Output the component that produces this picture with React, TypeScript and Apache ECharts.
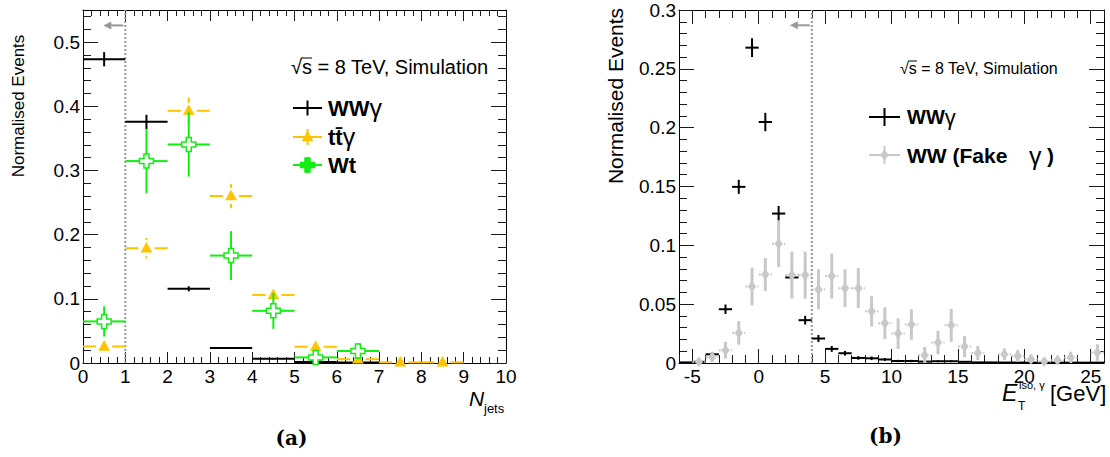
import React, { useEffect, useRef } from "react";
import * as echarts from "echarts";

// ---------- data ----------
const jetBins = [0.5, 1.5, 2.5, 3.5, 4.5, 5.5, 6.5, 7.5, 8.5];
const wwgJets = [0.4733, 0.3757, 0.1156, 0.0233, 0.0067, 0.0016, 0.0008, null, null];
const wwgJetsErr = [0.011, 0.011, 0.004, 0.0015, 0.001, 0.0005, 0.0003, null, null];
const ttgJets = [0.0258, 0.1788, 0.3929, 0.2602, 0.106, 0.0253, 0.006, 0.001, 0.001];
const ttgJetsErr = [0.004, 0.016, 0.021, 0.019, 0.011, 0.005, 0.002, 0.001, 0.001];
const wtJets = [0.0648, 0.3146, 0.3405, 0.1674, 0.0813, 0.0087, 0.0187, null, null];
const wtJetsErr = [0.0235, 0.05, 0.05, 0.038, 0.028, 0.006, 0.012, null, null];

const isoBins = [
  -5.5, -4.5, -3.5, -2.5, -1.5, -0.5, 0.5, 1.5, 2.5, 3.5, 4.5, 5.5, 6.5, 7.5, 8.5, 9.5,
  10.5, 11.5, 12.5, 13.5, 14.5, 15.5, 16.5, 17.5, 18.5, 19.5, 20.5, 21.5, 22.5, 23.5, 24.5, 25.5,
];
const wwgIso = [
  0.0005, 0.001, 0.0074, 0.0457, 0.1497, 0.268, 0.2048, 0.127, 0.0727, 0.0364, 0.0208, 0.012, 0.0083, 0.0043, 0.004, 0.003,
  0.0017, 0.0017, 0.0012, 0.0015, 0.0015, 0.001, 0.0005, 0.0005, 0.0004, 0.0004, 0.0003, 0.0003, 0.0003, 0.0003, 0.0003, 0.0003,
];
const wwgIsoErr = [
  0.0003, 0.0005, 0.002, 0.004, 0.006, 0.008, 0.0078, 0.0064, 0.0035, 0.0037, 0.003, 0.0025, 0.002, 0.0015, 0.0015, 0.0012,
  0.001, 0.001, 0.0008, 0.0008, 0.0008, 0.0006, 0.0004, 0.0004, 0.0003, 0.0003, 0.0002, 0.0002, 0.0002, 0.0002, 0.0002, 0.0002,
];
const fakeIso = [
  null, 0.001, 0.005, 0.0108, 0.0256, 0.065, 0.0753, 0.1014, 0.0747, 0.0747, 0.0625, 0.0739, 0.0636, 0.0636, 0.044, 0.0338,
  0.025, 0.0327, 0.0066, 0.0174, 0.032, 0.014, 0.0085, null, 0.0074, 0.006, 0.0032, 0.0012, 0.0023, 0.0046, null, 0.0089,
];
const fakeIsoErr = [
  null, 0.002, 0.004, 0.007, 0.01, 0.016, 0.014, 0.02, 0.02, 0.02, 0.017, 0.019, 0.016, 0.017, 0.013, 0.0135,
  0.013, 0.013, 0.007, 0.01, 0.014, 0.009, 0.006, null, 0.005, 0.005, 0.004, 0.003, 0.004, 0.005, null, 0.007,
];

// tick values
const jetMajorX = [0, 1, 2, 3, 4, 5, 6, 7, 8, 9, 10];
const jetMajorY = [0, 0.1, 0.2, 0.3, 0.4, 0.5];
const isoMajorX = [-5, 0, 5, 10, 15, 20, 25];
const isoMajorY = [0, 0.05, 0.1, 0.15, 0.2, 0.25, 0.3];

const minorsBetween = (min: number, max: number, step: number, majors: number[]) => {
  const out: number[] = [];
  const n = Math.round((max - min) / step);
  for (let i = 0; i <= n; i++) {
    const v = +(min + i * step).toFixed(6);
    if (!majors.some((m) => Math.abs(m - v) < 1e-9)) out.push(v);
  }
  return out;
};
const jetMinorX = minorsBetween(0, 10, 0.2, jetMajorX);
const jetMinorY = minorsBetween(0, 0.54, 0.02, jetMajorY);
const isoMinorX = minorsBetween(-6, 26, 1, isoMajorX);
const isoMinorY = minorsBetween(0, 0.3, 0.01, isoMajorY);

// ---------- styles ----------
const FONT = "Liberation Sans";
const BLACK = "#000000";
const YELLOW = "#ffc400";
const GREEN = "#11ee11";
const GREY = "#c8c8c8";
const CUTGREY = "#999999";

const rows = (xs: number[], ys: (number | null)[], es: (number | null)[], xe: number) =>
  xs
    .map((x, i) => (ys[i] == null ? null : [x, ys[i] as number, xe, (es[i] as number) || 0]))
    .filter((r) => r !== null) as number[][];

type MStyle = {
  color: string;
  width: number;
  vWidth?: number;
  hDash?: number[];
  marker: "none" | "triangle" | "opencross" | "diamond";
  gap: number;
};

const markerShape = (kind: string, cx: number, cy: number, color: string, fillOpen = "#ffffff") => {
  if (kind === "triangle") {
    return {
      type: "polygon",
      shape: { points: [[cx, cy - 6], [cx - 5.5, cy + 4], [cx + 5.5, cy + 4]] },
      style: { fill: color, stroke: color, lineWidth: 0.5 },
    };
  }
  if (kind === "diamond") {
    return {
      type: "polygon",
      shape: { points: [[cx, cy - 5], [cx + 4, cy], [cx, cy + 5], [cx - 4, cy]] },
      style: { fill: color, stroke: color, lineWidth: 0.5 },
    };
  }
  if (kind === "opencross") {
    const a = 2.5, L = 7;
    const pts = [
      [-a, -L], [a, -L], [a, -a], [L, -a], [L, a], [a, a], [a, L], [-a, L], [-a, a], [-L, a], [-L, -a], [-a, -a],
    ].map(([dx, dy]) => [cx + dx, cy + dy]);
    return {
      type: "polygon",
      shape: { points: pts },
      style: { fill: fillOpen, stroke: color, lineWidth: 1.5 },
    };
  }
  return null;
};

const makeRender = (st: MStyle) => (params: any, api: any) => {
  const x = api.value(0), y = api.value(1), xe = api.value(2), ye = api.value(3);
  const c = api.coord([x, y]);
  const l = api.coord([x - xe, y]);
  const r = api.coord([x + xe, y]);
  const t = api.coord([x, y + ye]);
  const b = api.coord([x, Math.max(0, y - ye)]);
  const g = st.gap;
  const children: any[] = [];
  const seg = (x1: number, y1: number, x2: number, y2: number, w: number, dash?: number[]) => {
    if (Math.abs(x2 - x1) < 0.5 && Math.abs(y2 - y1) < 0.5) return;
    children.push({
      type: "line",
      shape: { x1, y1, x2, y2 },
      style: { stroke: st.color, lineWidth: w, lineDash: dash || null },
    });
  };
  if (g > 0) {
    if (c[0] - g > l[0]) seg(l[0], c[1], c[0] - g, c[1], st.width, st.hDash);
    if (r[0] > c[0] + g) seg(c[0] + g, c[1], r[0], c[1], st.width, st.hDash);
    if (c[1] - g > t[1]) seg(c[0], t[1], c[0], c[1] - g, st.vWidth || st.width);
    if (b[1] > c[1] + g) seg(c[0], c[1] + g, c[0], b[1], st.vWidth || st.width);
  } else {
    seg(l[0], c[1], r[0], c[1], st.width, st.hDash);
    seg(c[0], t[1], c[0], b[1], st.vWidth || st.width);
  }
  const m = markerShape(st.marker, c[0], c[1], st.color);
  if (m) children.push(m);
  return { type: "group", children };
};

const cutRender = (params: any, api: any) => {
  const xc = api.value(0), ytop = api.value(1), ya = api.value(2);
  const p0 = api.coord([xc, 0]);
  const p1 = api.coord([xc, ytop]);
  const pa = api.coord([xc, ya]);
  return {
    type: "group",
    children: [
      {
        type: "line",
        shape: { x1: p0[0], y1: p0[1], x2: p1[0], y2: p1[1] },
        style: { stroke: CUTGREY, lineWidth: 2, lineDash: [2, 2] },
      },
      {
        type: "line",
        shape: { x1: pa[0] - 2, y1: pa[1], x2: pa[0] - 16, y2: pa[1] },
        style: { stroke: CUTGREY, lineWidth: 2 },
      },
      {
        type: "polygon",
        shape: { points: [[pa[0] - 22, pa[1]], [pa[0] - 14, pa[1] - 4], [pa[0] - 14, pa[1] + 4]] },
        style: { fill: CUTGREY },
      },
    ],
  };
};

const fmt = (v: number) => String(+(+v).toFixed(3));

const axis = (
  gi: number, pos: string, min: number, max: number, ticks: number[], len: number,
  label: boolean, line: boolean, fs = 19, margin = 4
) => ({
  gridIndex: gi,
  type: "value",
  min,
  max,
  position: pos,
  axisLine: { show: line, onZero: false, lineStyle: { color: "#000", width: 1 } },
  axisTick: { show: true, inside: true, length: len, customValues: ticks, lineStyle: { color: "#1a1a1a", width: 1 } },
  axisLabel: label
    ? {
        show: true, customValues: ticks, formatter: fmt, fontSize: fs, fontFamily: FONT, color: "#000",
        margin, lineHeight: 15,
      }
    : { show: false },
  splitLine: { show: false },
  minorTick: { show: false },
  axisPointer: { show: false },
  silent: true,
});

const legendLine = (x1: number, x2: number, y: number, vh: number, color: string, w: number, vw?: number) => [
  { type: "line", shape: { x1, y1: y, x2, y2: y }, style: { stroke: color, lineWidth: w } },
  {
    type: "line",
    shape: { x1: (x1 + x2) / 2, y1: y - vh, x2: (x1 + x2) / 2, y2: y + vh },
    style: { stroke: color, lineWidth: vw || w },
  },
];

export default function App() {
  const ref = useRef<HTMLDivElement>(null);
  useEffect(() => {
    if (!ref.current) return;
    const chart = echarts.init(ref.current, null, { renderer: "svg" });

    const gridL = { left: 83, top: 10, width: 423, height: 353, outerBoundsMode: "none" };
    const gridR = { left: 679, top: 10, width: 425, height: 353, outerBoundsMode: "none" };

    const xAxes = [
      axis(0, "bottom", 0, 10, jetMajorX, 11, true, true, 19, 6),
      axis(0, "bottom", 0, 10, jetMinorX, 6, false, false),
      axis(0, "top", 0, 10, jetMajorX, 11, false, true),
      axis(0, "top", 0, 10, jetMinorX, 6, false, false),
      axis(1, "bottom", -6, 26, isoMajorX, 14, true, true, 19, 6),
      axis(1, "bottom", -6, 26, isoMinorX, 8, false, false),
      axis(1, "top", -6, 26, isoMajorX, 14, false, true),
      axis(1, "top", -6, 26, isoMinorX, 8, false, false),
    ];
    const yAxes = [
      axis(0, "left", 0, 0.55, jetMajorY, 15, true, true, 19, 3),
      axis(0, "left", 0, 0.55, jetMinorY, 8, false, false),
      axis(0, "right", 0, 0.55, jetMajorY, 15, false, true),
      axis(0, "right", 0, 0.55, jetMinorY, 8, false, false),
      axis(1, "left", 0, 0.3, isoMajorY, 15, true, true, 19, 3),
      axis(1, "left", 0, 0.3, isoMinorY, 8, false, false),
      axis(1, "right", 0, 0.3, isoMajorY, 15, false, true),
      axis(1, "right", 0, 0.3, isoMinorY, 8, false, false),
    ];

    const custom = (name: string, data: number[][], xi: number, yi: number, render: any) => ({
      type: "custom",
      name,
      xAxisIndex: xi,
      yAxisIndex: yi,
      data,
      dimensions: ["x", "y", "xe", "ye"],
      encode: { x: 0, y: 1 },
      renderItem: render,
      silent: true,
      clip: false,
    });

    const series = [
      custom("cutL", [[1, 0.55, 0.526]], 0, 0, cutRender),
      custom("WWγ", rows(jetBins, wwgJets, wwgJetsErr, 0.5), 0, 0,
        makeRender({ color: BLACK, width: 2, marker: "none", gap: 0 })),
      custom("ttγ", rows(jetBins, ttgJets, ttgJetsErr, 0.5), 0, 0,
        makeRender({ color: YELLOW, width: 2, marker: "triangle", gap: 8 })),
      custom("Wt", rows(jetBins, wtJets, wtJetsErr, 0.5), 0, 0,
        makeRender({ color: GREEN, width: 2, marker: "opencross", gap: 7 })),
      custom("cutR", [[4, 0.3, 0.287]], 4, 4, cutRender),
      custom("WWγ iso", rows(isoBins, wwgIso, wwgIsoErr, 0.5), 4, 4,
        makeRender({ color: BLACK, width: 2, marker: "none", gap: 0 })),
      custom("WW fake", rows(isoBins, fakeIso, fakeIsoErr, 0.5), 4, 4,
        makeRender({ color: GREY, width: 2, vWidth: 3, hDash: [2, 4], marker: "diamond", gap: 0 })),
    ];

    const txt = (text: string, x: number, y: number, size: number, extra: any = {}) => ({
      type: "text",
      x,
      y,
      silent: true,
      style: {
        text,
        fontFamily: FONT,
        fontSize: size,
        lineHeight: Math.round(size * 0.85),
        fill: "#000",
        align: "left",
        verticalAlign: "middle",
        ...extra,
      },
    });
    const hline = (x1: number, x2: number, y: number, w = 1) => ({
      type: "line",
      silent: true,
      shape: { x1, y1: y, x2, y2: y },
      style: { stroke: "#000", lineWidth: w },
    });

    const graphic: any[] = [
      // y titles
      { ...txt("Normalised Events", 18, 106, 17, { align: "center" }), rotation: Math.PI / 2 },
      { ...txt("Normalised Events", 615, 96, 21, { align: "center" }), rotation: Math.PI / 2 },
      // energy labels
      txt("√s = 8 TeV, Simulation", 291, 67, 20),
      hline(301, 312, 58),
      txt("√s = 8 TeV, Simulation", 900, 68, 16),
      hline(908, 917, 61),
      // left legend
      ...legendLine(293, 322, 108, 7.5, BLACK, 2),
      ...legendLine(293, 322, 137, 8, YELLOW, 2),
      markerShape("triangle", 307.5, 137, YELLOW),
      ...legendLine(293, 322, 165, 8, GREEN, 2),
      markerShape("opencross", 307.5, 165, GREEN, GREEN),
      txt("{b|WW}{g|γ}", 328, 108, 22, {
        rich: { b: { fontFamily: FONT, fontSize: 22, fontWeight: "bold" }, g: { fontFamily: FONT, fontSize: 25 } },
      }),
      txt("{b|tt\u0304}{g|γ}", 328, 137, 22, {
        rich: { b: { fontFamily: FONT, fontSize: 22, fontWeight: "bold" }, g: { fontFamily: FONT, fontSize: 25 } },
      }),
      txt("Wt", 328, 165, 22, { fontWeight: "bold" }),
      // right legend
      ...legendLine(869, 900, 117, 9, BLACK, 2),
      ...legendLine(869, 900, 155, 9, GREY, 2),
      markerShape("diamond", 884.5, 155, GREY),
      txt("{b|WW}{g|γ}", 907, 117, 20, {
        rich: { b: { fontFamily: FONT, fontSize: 20, fontWeight: "bold" }, g: { fontFamily: FONT, fontSize: 22 } },
      }),
      txt("WW (Fake", 907, 155, 21, { fontWeight: "bold" }),
      txt("γ", 1029, 156, 25),
      txt(")", 1047, 155, 21, { fontWeight: "bold" }),
      // x titles
      txt("N", 469, 398, 21, { fontStyle: "italic" }),
      txt("jets", 484, 408, 13),
      txt("E", 1002, 393, 23, { fontStyle: "italic" }),
      txt("iso, γ", 1019, 385, 11),
      txt("T", 1018, 406, 12),
      txt("[GeV]", 1050, 393, 22),
      // panel labels
      txt("(a)", 291.5, 438, 20, { align: "center", fontFamily: "DejaVu Serif", fontWeight: "bold" }),
      txt("(b)", 885.5, 436, 20, { align: "center", fontFamily: "DejaVu Serif", fontWeight: "bold" }),
    ].filter(Boolean);

    chart.setOption({
      animation: false,
      backgroundColor: "#ffffff",
      grid: [gridL, gridR],
      xAxis: xAxes,
      yAxis: yAxes,
      series,
      graphic,
    });
    return () => chart.dispose();
  }, []);
  return (
    <div
      ref={ref}
      style={{ position: "fixed", left: 0, top: 0, width: 1110, height: 457, background: "#fff" }}
    />
  );
}
